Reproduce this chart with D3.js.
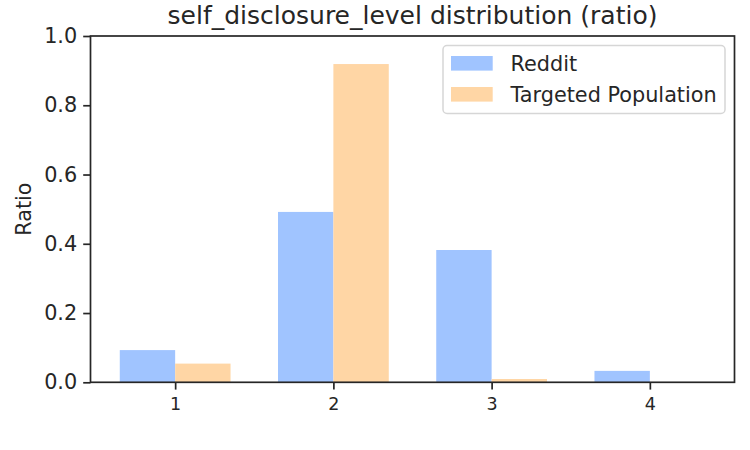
<!DOCTYPE html>
<html>
<head>
<meta charset='utf-8' />
<title>self_disclosure_level distribution</title>
<script src="https://cdn.jsdelivr.net/npm/d3@7/dist/d3.min.js"></script>
<style type="text/css">
	body { margin: 0; background: #fff; }
	#chart { width: 750px; height: 450px; }
	text { font-family: "DejaVu Sans", sans-serif; fill: #262626; }
	.axis line { stroke: #262626; stroke-width: 1.7px; }
	.axis path { display: none; }
</style>
</head>
<body>
<div id="chart"></div>

<script type="text/javascript">
	// data
	var levels = [1, 2, 3, 4];
	var redditValues = [0.093, 0.492, 0.382, 0.033];
	var targetedValues = [0.054, 0.919, 0.0095, 0.0];
	var yTicks = [0, 0.2, 0.4, 0.6, 0.8, 1.0];
	var seriesNames = ["Reddit", "Targeted Population"];
	var seriesColors = ["#A0C4FF", "#FFD6A5"];

	var width = 750, height = 450;
	var margin = {top: 36, right: 15.5, bottom: 67.7, left: 90.5};
	var chartWidth = width - margin.left - margin.right,
		chartHeight = height - margin.top - margin.bottom;
	var barW = 0.35;

	var svg = d3.select("#chart").append("svg")
		.attr("width", width)
		.attr("height", height);

	var x = d3.scaleLinear().domain([0.465, 4.535]).range([0, chartWidth]);
	var y = d3.scaleLinear().domain([0, 1]).range([chartHeight, 0]);

	var g = svg.append("g")
		.attr("transform", "translate(" + margin.left + "," + margin.top + ")");

	var series = [redditValues, targetedValues];
	series.forEach(function(vals, s) {
		g.selectAll(".bar-" + s)
			.data(levels.map(function(l, i) { return {level: l, value: vals[i]}; }))
		  .enter().append("rect")
			.attr("class", "bar-" + s)
			.attr("x", function(d) { return x(d.level + (s === 0 ? -barW : 0)); })
			.attr("width", x(barW) - x(0))
			.attr("y", function(d) { return y(d.value); })
			.attr("height", function(d) { return y(0) - y(d.value); })
			.attr("fill", seriesColors[s]);
	});

	g.append("g")
		.attr("class", "y axis")
		.call(d3.axisLeft(y).tickValues(yTicks).tickFormat(d3.format(".1f")).tickSize(7.3).tickPadding(6))
		.selectAll("text")
		.style("font-size", "20.8px")
		.style("font-family", "DejaVu Sans")
		.attr("fill", "#262626");

	g.append("g")
		.attr("class", "x axis")
		.attr("transform", "translate(0," + chartHeight + ")")
		.call(d3.axisBottom(x).tickValues(levels).tickFormat(d3.format("d")).tickSize(7.3).tickPadding(7.5))
		.selectAll("text")
		.style("font-size", "17.5px")
		.style("font-family", "DejaVu Sans")
		.attr("fill", "#262626");

	// frame
	g.append("rect")
		.attr("width", chartWidth)
		.attr("height", chartHeight)
		.attr("fill", "none")
		.attr("stroke", "#262626")
		.attr("stroke-width", 1.7);

	svg.append("text")
		.attr("x", margin.left + chartWidth / 2)
		.attr("y", 23.5)
		.attr("text-anchor", "middle")
		.style("font-size", "25px")
		.text("self_disclosure_level distribution (ratio)");

	svg.append("text")
		.attr("transform", "translate(31," + (margin.top + chartHeight / 2) + ") rotate(-90)")
		.attr("text-anchor", "middle")
		.style("font-size", "20.8px")
		.text("Ratio");

	// legend
	var legend = svg.append("g").attr("transform", "translate(443,45.5)");
	legend.append("rect")
		.attr("width", 282)
		.attr("height", 68)
		.attr("rx", 4)
		.attr("fill", "#fff")
		.attr("fill-opacity", 0.8)
		.attr("stroke", "#d6d6d6")
		.attr("stroke-width", 1.5);

	var items = legend.selectAll(".item")
		.data(seriesNames)
	  .enter().append("g")
		.attr("class", "item")
		.attr("transform", function(d, i) { return "translate(8," + (10.5 + i * 31) + ")"; });

	items.append("rect")
		.attr("width", 41.7)
		.attr("height", 14.6)
		.attr("fill", function(d, i) { return seriesColors[i]; });

	items.append("text")
		.attr("x", 59.5)
		.attr("y", 7.3)
		.attr("dy", "0.36em")
		.style("font-size", "20.8px")
		.text(function(d) { return d; });
</script>
</body>
</html>
